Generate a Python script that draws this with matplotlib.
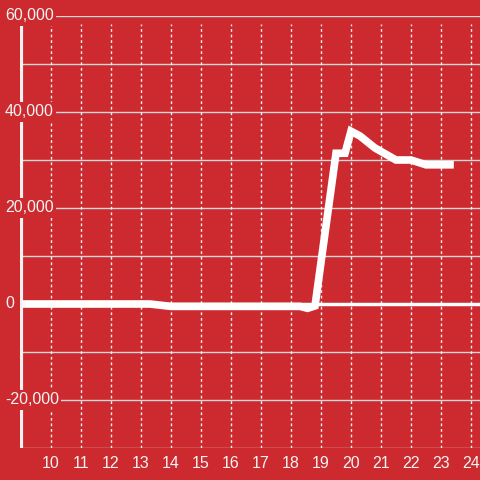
import matplotlib
matplotlib.use("Agg")
import matplotlib.pyplot as plt
import matplotlib.transforms as mtransforms

BG = "#cc2a2f"

# series
x_vals = [9.0, 13.3, 14.0, 18.3, 18.55, 18.8, 19.5, 19.8, 20.0, 20.3, 20.8, 21.5, 22.0, 22.5, 23.3]
y_vals = [0, 0, -500, -500, -900, -400, 31400, 31400, 36000, 35000, 32500, 30000, 30000, 29000, 29000]

x_ticks = list(range(10, 25))
y_ticks = [-20000, 0, 20000, 40000, 60000]
y_labels = ["-20,000", "0", "20,000", "40,000", "60,000"]

plt.rcParams["font.family"] = ["Liberation Sans", "DejaVu Sans"]

fig = plt.figure(figsize=(4.8, 4.8), dpi=100, facecolor=BG)
ax = fig.add_axes([20 / 480, 32 / 480, 460 / 480, 432 / 480])
ax.set_facecolor(BG)

ax.set_xlim(10 - 31 / 30, 10 + 429 / 30)
ax.set_ylim(-30000, 60000)
top = 0.981

# grid
for v in range(-30000, 60001, 10000):
    ax.axhline(v, color="#d8d8d8", lw=1.0, zorder=1)
for v in x_ticks:
    ax.axvline(v, ymax=top, color="#f0f0f0", lw=1.0, ls=(0, (2, 2)), zorder=1)
ax.axhline(0, color="white", lw=2.5, zorder=2)

ax.plot(x_vals, y_vals, color="white", lw=5.5, solid_joinstyle="miter", zorder=3)

for s in ax.spines.values():
    s.set_visible(False)
ax.axvline(ax.get_xlim()[0] + 0.02, ymax=top, color="#f2f2f2", lw=3, zorder=4)

ax.set_xticks(x_ticks)
ax.set_yticks([])
ax.tick_params(axis="x", length=0, pad=6, labelsize=11.5, labelcolor="#f4f4f4")

trans = mtransforms.blended_transform_factory(fig.transFigure, ax.transData)
for v, lab in zip(y_ticks, y_labels):
    ax.text(5 / 480, v, lab, transform=trans, ha="left", va="center",
            fontsize=11.5, color="#f4f4f4", zorder=5, clip_on=False,
            bbox=dict(boxstyle="square,pad=0.15", fc=BG, ec="none"))

fig.savefig("out.png", dpi=100, facecolor=BG)
